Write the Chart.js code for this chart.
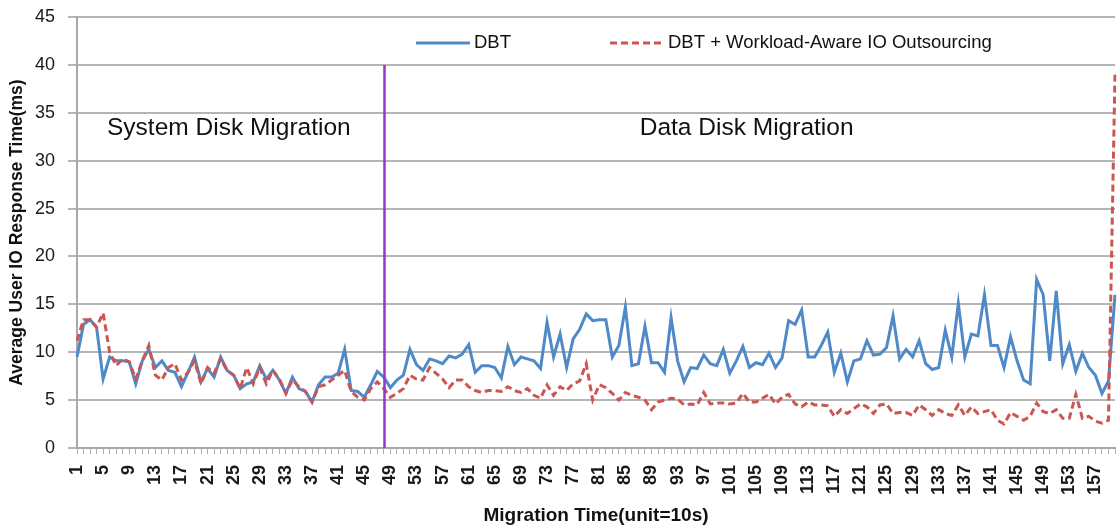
<!DOCTYPE html>
<html>
<head>
<meta charset="utf-8">
<title>Disk migration IO response time</title>
<script src="https://cdn.jsdelivr.net/npm/chart.js@4.4.0/dist/chart.umd.min.js"></script>
<style>
  html, body { margin: 0; padding: 0; background: #fff; }
</style>
</head>
<body>
<canvas id="chart" width="1117" height="527"></canvas>
<script>
// migration time samples (unit = 10s)
const timeSteps = Array.from({ length: 160 }, (_, i) => i + 1);

// average user IO response time (ms)
const dbt = [
  9.5, 12.9, 13.4, 12.6, 7.2, 9.5, 9.1, 9.1, 9.0, 6.7,
  9.1, 10.3, 8.4, 9.1, 8.1, 7.9, 6.4, 7.9, 9.5, 6.9,
  8.3, 7.4, 9.5, 8.1, 7.6, 6.2, 6.7, 6.9, 8.6, 7.2,
  8.1, 7.1, 5.7, 7.4, 6.2, 5.9, 4.8, 6.6, 7.4, 7.4,
  7.8, 10.3, 6.0, 5.9, 5.3, 6.6, 8.0, 7.4, 6.3, 7.1,
  7.6, 10.3, 8.7, 8.1, 9.3, 9.1, 8.8, 9.6, 9.4, 9.8,
  10.8, 7.9, 8.6, 8.6, 8.4, 7.3, 10.6, 8.7, 9.5, 9.3,
  9.1, 8.3, 13.1, 9.5, 11.9, 8.4, 11.4, 12.4, 14.0, 13.3,
  13.4, 13.4, 9.5, 10.7, 14.7, 8.6, 8.8, 12.7, 8.9, 8.9,
  7.9, 13.6, 9.1, 6.9, 8.4, 8.3, 9.7, 8.8, 8.6, 10.3,
  7.8, 9.1, 10.6, 8.4, 8.9, 8.7, 9.9, 8.4, 9.4, 13.3,
  12.9, 14.4, 9.5, 9.5, 10.7, 12.1, 7.9, 9.9, 6.9, 9.1,
  9.3, 11.2, 9.7, 9.8, 10.5, 13.8, 9.3, 10.3, 9.5, 11.2,
  8.8, 8.2, 8.4, 12.3, 9.5, 15.1, 9.5, 11.9, 11.7, 16.0,
  10.7, 10.7, 8.4, 11.6, 9.1, 7.1, 6.7, 17.6, 16.0, 9.1,
  16.4, 8.8, 10.8, 8.0, 9.9, 8.4, 7.6, 5.7, 7.0, 16.0
];

const dbtOutsourcing = [
  11.2, 13.4, 13.4, 12.6, 14.1, 10.0, 8.6, 9.3, 9.0, 7.2,
  9.1, 10.7, 7.6, 7.1, 8.4, 8.8, 7.1, 7.9, 9.1, 6.7,
  8.4, 7.8, 9.3, 8.1, 7.6, 6.2, 8.4, 6.7, 8.4, 6.7,
  8.1, 7.2, 5.7, 7.1, 6.4, 5.9, 4.8, 6.4, 6.6, 7.1,
  7.6, 8.1, 5.9, 5.3, 5.0, 6.2, 6.9, 6.2, 5.3, 5.7,
  6.2, 7.6, 7.2, 7.1, 8.4, 7.8, 7.2, 6.3, 7.1, 7.1,
  6.4, 6.0, 5.8, 6.0, 6.0, 5.9, 6.4, 6.0, 5.8, 6.2,
  5.5, 5.2, 6.6, 5.5, 6.4, 6.0, 6.7, 7.0, 8.8, 5.0,
  6.6, 6.3, 5.7, 5.0, 5.8, 5.5, 5.3, 5.0, 4.0, 4.8,
  5.0, 5.2, 5.1, 4.5, 4.6, 4.5, 5.8, 4.6, 4.7, 4.7,
  4.6, 4.7, 5.7, 4.8, 4.8, 5.2, 5.6, 4.6, 5.3, 5.6,
  4.6, 4.3, 4.8, 4.5, 4.5, 4.4, 3.3, 4.0, 3.6, 4.1,
  4.6, 4.3, 3.6, 4.5, 4.6, 3.6, 3.7, 3.7, 3.4, 4.5,
  4.0, 3.4, 4.0, 3.6, 3.4, 4.5, 3.4, 4.3, 3.6, 3.8,
  4.0, 2.9, 2.5, 3.7, 3.3, 2.9, 3.3, 4.7, 3.8, 3.6,
  4.0, 3.1, 3.1, 5.6, 3.1, 3.3, 2.8, 2.6, 2.9, 39.0
];

const seriesNames = ['DBT', 'DBT + Workload-Aware IO Outsourcing'];
const phaseNames = ['System Disk Migration', 'Data Disk Migration'];
const diskSwitchAt = 48.1;   // time step where the data disk migration starts
const labelEvery = 4;        // x tick label every 4 samples

const FONT = '"Liberation Sans", Arial, Helvetica, sans-serif';
const BLUE = '#4f89c7';
const RED = '#cc5651';
const PURPLE = '#9b34cc';

Chart.defaults.font.family = FONT;
Chart.defaults.color = '#1a1a1a';

// vertical phase marker, phase captions and the legend inside the plot
const overlayPlugin = {
  id: 'overlay',
  afterDatasetsDraw(chart) {
    const { ctx, scales: { x, y } } = chart;
    ctx.save();

    const sx = x.getPixelForValue(diskSwitchAt - 1);
    ctx.strokeStyle = PURPLE;
    ctx.lineWidth = 2.5;
    ctx.beginPath();
    ctx.moveTo(sx, y.getPixelForValue(40));
    ctx.lineTo(sx, y.getPixelForValue(0));
    ctx.stroke();

    ctx.fillStyle = '#111';
    ctx.textBaseline = 'middle';
    ctx.textAlign = 'left';
    ctx.font = '24.5px ' + FONT;
    ctx.fillText(phaseNames[0], x.getPixelForValue(4.6), y.getPixelForValue(33.4));
    ctx.fillText(phaseNames[1], x.getPixelForValue(86.2), y.getPixelForValue(33.4));

    // legend
    const ly = 43;
    const items = [
      { x: 416, color: BLUE, dash: [] },
      { x: 610, color: RED, dash: [7, 4] }
    ];
    ctx.font = '18.5px ' + FONT;
    items.forEach((it, i) => {
      ctx.strokeStyle = it.color;
      ctx.lineWidth = 3;
      ctx.setLineDash(it.dash);
      ctx.beginPath();
      ctx.moveTo(it.x, ly);
      ctx.lineTo(it.x + 54, ly);
      ctx.stroke();
      ctx.setLineDash([]);
      ctx.fillText(seriesNames[i], it.x + 58, ly);
    });

    ctx.restore();
  }
};

new Chart(document.getElementById('chart'), {
  type: 'line',
  data: {
    labels: timeSteps,
    datasets: [
      {
        label: seriesNames[0],
        data: dbt,
        borderColor: BLUE,
        borderWidth: 3,
        pointRadius: 0,
        tension: 0,
        order: 1
      },
      {
        label: seriesNames[1],
        data: dbtOutsourcing,
        borderColor: RED,
        borderWidth: 3,
        borderDash: [7, 4],
        pointRadius: 0,
        tension: 0,
        order: 0
      }
    ]
  },
  options: {
    responsive: false,
    animation: false,
    layout: { padding: { top: 17, right: 2, left: 0, bottom: 0 } },
    plugins: {
      legend: { display: false },
      tooltip: { enabled: false }
    },
    scales: {
      x: {
        offset: false,
        grid: { drawOnChartArea: false, drawTicks: true, tickLength: 6, color: '#b0b0b0', lineWidth: 1 },
        border: { color: '#a9a9a9', width: 2 },
        ticks: {
          autoSkip: false,
          minRotation: 90,
          maxRotation: 90,
          padding: 11,
          color: '#1a1a1a',
          font: { size: 18, weight: 'bold' },
          callback: (v, i) => (i % labelEvery === 0 ? timeSteps[i] : '')
        },
        title: {
          display: true,
          text: 'Migration Time(unit=10s)',
          color: '#111',
          font: { size: 19, weight: 'bold' },
          padding: { top: 0, bottom: 0 }
        },
        afterFit(scale) {
          scale.height = 79;
          scale.paddingLeft = 0;
          scale.paddingRight = 0;
        }
      },
      y: {
        min: 0,
        max: 45,
        ticks: { stepSize: 5, padding: 13, color: '#1a1a1a', font: { size: 18 } },
        grid: { color: '#b5b5b5', lineWidth: 2, tickLength: 9 },
        border: { color: '#a9a9a9', width: 2 },
        title: {
          display: true,
          text: 'Average User IO Response Time(ms)',
          color: '#111',
          font: { size: 17.5, weight: 'bold' },
          padding: { top: 7, bottom: 0 }
        },
        afterFit(scale) {
          scale.width = 77;
          scale.paddingTop = 0;
          scale.paddingBottom = 0;
        }
      }
    }
  },
  plugins: [overlayPlugin]
});
</script>
</body>
</html>
